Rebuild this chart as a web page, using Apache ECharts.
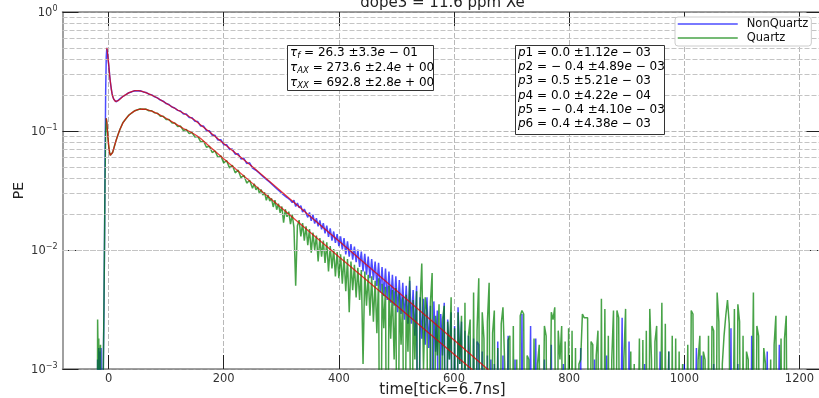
<!DOCTYPE html>
<html>
<head>
<meta charset="utf-8">
<script src="https://cdn.jsdelivr.net/npm/echarts@6/dist/echarts.min.js"></script>
<style>html,body{margin:0;padding:0;background:#fff}#c{width:819px;height:398px}</style>
</head>
<body>
<div id="c"></div>
<script>
// ---------- DATA ----------
const xTickLabels = [0, 200, 400, 600, 800, 1000, 1200];
const yMinorGrid = [0.002,0.003,0.004,0.005,0.006,0.007,0.008,0.009,
                    0.02,0.03,0.04,0.05,0.06,0.07,0.08,0.09,
                    0.2,0.3,0.4,0.5,0.6,0.7,0.8,0.9];
const seriesNames = ['NonQuartz', 'Quartz'];
const xAxisTitle = 'time[tick=6.7ns]';
const yAxisTitle = 'PE';

// sample positions (tick bins): -20..20 step 1, 25..250 step 5, 253..649 step 3, 652..1180 step 3
function seq(a, b, s) { const r = []; for (let v = a; v <= b; v += s) r.push(v); return r; }
const timeTicks = [].concat(seq(-20, 20, 1), seq(25, 250, 5), seq(253, 649, 3), seq(652, 1180, 3));

const nonQuartzA = [0,.0012,0,.0015,.0009,.0014,0,.0015,0,0,
 0,.0012,.003,.012,.06,.22,.42,.50,.46,.41,
 .37,.33,.29,.262,.24,.222,.207,.197,.19,.185,
 .181,.178,.177,.176,.177,.178,.18,.182,.184,.186,
 .188];
const nonQuartzB = [.196,.201,.21,.213,.218,.217,.218,.213,.211,.204,
 .201,.194,.19,.182,.178,.17,.167,.159,.156,.149,
 .147,.139,.139,.13,.129,.121,.12,.11,.11,.101,
 .1005,.092,.092,.084,.0845,.0768,.0768,.070,.0705,.0638,
 .0645,.0582,.059,.0532,.054,.0488];
const nonQuartzC = [
 .0495,.0468,.0466,.0441,.0440,.0415,.0418,.0392,.0395,.0371,
 .0372,.0348,.0352,.0327,.0336,.0309,.0315,.0290,.0298,.0276,
 .0285,.0262,.0250,.0262,.0232,.0248,.0226,.0236,.0208,.0221,
 .0218,.0188,.0207,.0176,.0198,.0167,.0185,.0158,.0177,.0149,
 .0168,.0138,.0160,.0129,.0152,.0120,.0143,.0115,.0136,.0108,
 .0130,.0101,.0126,.0092,.0118,.0088,.0112,.0083,.0107,.0079,
 .0101,.0072,.0097,.0066,.0093,.0062,.0088,.0058,.0084,.0056,
 .0080,.0050,.0078,.0044,.0072,.0041,.0070,.0038,.0066,.0036,
 .0062,.0034,.0060,.0030,.0056,.0029,.0053,.0026,.0050,.0024,
 .0055,.0024,.0046,.0019,.0050,0,.0040,.0018,.0039,.0016,
 .0040,.0015,.0034,0,.0037,.0014,.0031,0,.0029,.0013,
 .0036,0,.0026,.0012,.0030,0,.0023,0,.0033,.0011,
 .0025,0,.0021,0,.0019,.0010,0,.0018,0,.0017,
 .0016,0,.0014];
const nonQuartzD = [
 .0014,0,.0013,0,.0012,0,.0011,0,.0017,0,
 0,.0013,0,0,.0019,0,0,0,.0012,0,
 0,0,.0029,0,0,0,0,.0023,0,0,
 .0018,0,0,0,0,.0012,0,0,0,.0016,
 0,0,0,0,0,0,.0011,0,0,0,
 0,0,0,0,0,0,.0015,0,0,0,
 0,0,0,0,.0012,0,0,0,0,0,
 0,.0013,0,0,0,0,0,0,0,0,
 .0027,0,0,0,.0017,0,0,0,0,0,
 0,0,0,.0011,0,0,0,0,0,0,
 0,0,.0014,0,0,0,0,.0014,0,0,
 0,0,0,0,0,0,.0011,0,0,0,
 0,0,0,.0015,0,0,.0013,0,0,0,
 0,0,0,.0011,0,0,0,0,0,0,
 0,0,0,.0022,0,0,0,.0011,0,0,
 0,0,0,0,0,.0019,0,0,0,0,
 0,0,0,0,.0014,0,0,0,0,0,
 0,.0016,0,0,0,0,0];

const quartzA = [0,.0026,.0012,.0018,0,.0013,.0016,0,0,0,
 0,.0011,.0035,.012,.045,.10,.128,.118,.101,.087,
 .077,.070,.065,.0625,.0617,.0618,.0635,.066,.068,.071,
 .074,.077,.080,.083,.086,.089,.092,.095,.098,.101,
 .104];
const quartzB = [.118,.126,.136,.141,.148,.150,.154,.152,.153,.148,
 .148,.142,.141,.133,.133,.125,.125,.117,.117,.109,
 .11,.101,.103,.095,.097,.089,.09,.081,.082,.073,
 .0745,.066,.068,.060,.0618,.054,.0565,.049,.0515,.0445,
 .047,.0405,.0425,.0365,.0385,.033];
const quartzC = [
 .0360,.0320,.0338,.0300,.0322,.0290,.0305,.0262,.0290,.0258,
 .0272,.0230,.0262,.0218,.0245,.0205,.0232,.0170,.0220,.0190,
 .0210,.0165,.0198,.0155,.0050,.0160,.0178,.0130,.0168,.0120,
 .0158,.0110,.0150,.0095,.0140,.0100,.0132,.0080,.0126,.0088,
 .0120,.0078,.0116,.0066,.0108,.0070,.0102,.0060,.0096,.0058,
 .0092,.0052,.0088,.0045,.0084,.0030,.0080,.0046,.0075,.0040,
 .0071,.0038,.0068,.0011,.0066,.0034,.0062,.0028,.0060,.0025,
 .0055,.0020,.0058,0,.0052,.0022,.0049,0,.0050,.0018,
 .0046,.0012,.0048,0,.0044,.0016,.0040,0,.0042,.0014,
 .0060,0,.0038,.0012,.0045,0,.0035,.0077,.0010,.0040,
 .0030,0,.0036,.0064,0,.0028,.0013,.0035,0,.0026,
 .0034,0,.0025,.0012,.0040,0,.0022,0,.0030,.0011,
 .0028,0,.0036,0,.0019,.0026,0,.0044,0,.0021,
 .0058,0,.0030];
const quartzD = [
 .0018,0,.0025,.0053,0,.0020,.0031,0,.0015,0,
 .0024,.0033,.0011,0,.00175,.0019,0,.0023,0,.0012,
 0,.0028,.0031,.0029,0,.0013,.0012,0,0,.0018,
 0,.0011,.0016,0,0,.0023,.0019,0,0,.0030,
 .0026,.0033,0,.0021,.0012,.0023,0,.0017,0,.0022,
 0,.0021,0,.0015,0,.0011,.0012,.0029,.0027,.0027,
 .0027,0,.0017,.0016,0,.0013,.0021,0,.0039,0,
 .0032,0,.0019,0,.0012,.0031,0,.0031,.0027,0,
 0,.0012,.0032,0,0,.0014,0,.0011,0,0,
 .0018,0,.00175,0,.0021,0,.0032,.0012,0,.0017,
 .0023,0,0,.0036,0,.0024,0,.0014,0,.0019,
 0,.0018,0,.0014,0,.0011,0,0,.0016,0,
 .0031,.0029,0,0,.0012,.0019,0,.0014,.0012,0,
 .0019,0,.0023,.0021,0,.0044,.0025,0,.0011,.0019,
 .0028,.0038,.0024,0,0,.0032,0,.0035,.0025,0,
 .0019,0,.0014,.0012,0,0,.0044,0,.0023,.0019,
 0,0,.0015,.0011,0,0,.0012,0,.0016,.0028,
 0,0,.0018,0,.0018,.0028,0];

const nonQuartz = [].concat(nonQuartzA, nonQuartzB, nonQuartzC, nonQuartzD);
const quartz = [].concat(quartzA, quartzB, quartzC, quartzD);

// fitted curves
const fitNonQuartzT = [-3,-2,-1,0,1,2,3,4,5,6,7,8,9,10,12,14,17,20,25,30,35,40,46,52,60,70,80,90,100,110,120,135,150,160,175,200,250,300,350,400,450,500,550,600,650,700];
const fitNonQuartzV = [.50,.46,.41,.37,.33,.29,.262,.24,.222,.207,.197,.19,.185,.181,.177,.176,.18,.186,.195,.202,.209,.214,.218,.218,.214,.205,.195,.183,.171,.16,.15,.137,.123,.1125,.0985,.0785,.0501,.0310,.0192,.0119,.00737,.00457,.00283,.00175,.00108,.00067];
const fitQuartzT = [-4,-3,-2,-1,0,1,2,3,4,5,6,7,8,10,12,15,20,25,30,35,40,45,50,58,65,75,85,100,115,130,140,150,160,175,200,250,300,350,400,450,500,550,600,650,700];
const fitQuartzV = [.128,.118,.101,.087,.077,.070,.065,.0625,.0617,.0618,.0635,.066,.068,.074,.080,.089,.104,.117,.127,.135,.142,.147,.151,.153,.152,.147,.140,.128,.116,.105,.0995,.0935,.0865,.0745,.0585,.0363,.0226,.0141,.00879,.00548,.00342,.00213,.00133,.00083,.00052];

const titleText = 'dope3 = 11.6 ppm Xe';
const tauLines = [
  '{i|τ}{sub|f}{n| = 26.3 ±3.3}{i|e}{n| − 01}',
  '{i|τ}{sub|AX}{n| = 273.6 ±2.4}{i|e}{n| + 00}',
  '{i|τ}{sub|XX}{n| = 692.8 ±2.8}{i|e}{n| + 00}'
];
const pLines = [
  '{i|p}{n|1 = 0.0 ±1.12}{i|e}{n| − 03}',
  '{i|p}{n|2 = − 0.4 ±4.89}{i|e}{n| − 03}',
  '{i|p}{n|3 = 0.5 ±5.21}{i|e}{n| − 03}',
  '{i|p}{n|4 = 0.0 ±4.22}{i|e}{n| − 04}',
  '{i|p}{n|5 = − 0.4 ±4.10}{i|e}{n| − 03}',
  '{i|p}{n|6 = 0.4 ±4.38}{i|e}{n| − 03}'
];

// ---------- CHART ----------
const FONT = 'DejaVu Sans';
const FLOOR = 1e-5; // zero counts drop below the log axis (clipped)
const pts = (ts, vs) => ts.map((t, i) => [t, vs[i] > 0 ? vs[i] : FLOOR]);

const richText = {
  n: { fontSize: 12, fontFamily: FONT, color: '#111', lineHeight: 15 },
  i: { fontSize: 12, fontFamily: FONT, fontStyle: 'italic', color: '#111', lineHeight: 15 },
  sub: { fontSize: 8.5, fontFamily: FONT, fontStyle: 'italic', color: '#111', lineHeight: 9, verticalAlign: 'bottom' }
};
const graphics = [];
graphics.push({ type: 'text', x: 442.5, y: 3, z: 100,
  style: { text: titleText, fontSize: 15, fontFamily: FONT, fill: '#222', align: 'center', verticalAlign: 'middle' } });
graphics.push({ type: 'text', x: 442.5, y: 390.5, z: 100,
  style: { text: xAxisTitle, fontSize: 15, fontFamily: FONT, fill: '#222', align: 'center', verticalAlign: 'middle' } });
graphics.push({ type: 'text', x: 19, y: 190.5, z: 100, rotation: Math.PI / 2,
  style: { text: yAxisTitle, fontSize: 14, fontFamily: FONT, fill: '#222', align: 'center', verticalAlign: 'middle' } });
graphics.push({ type: 'rect', z: 100, shape: { x: 287.5, y: 45.5, width: 146, height: 45 },
  style: { fill: '#fff', stroke: '#333', lineWidth: 1 } });
tauLines.forEach((s, k) => graphics.push({ type: 'text', z: 101, x: 290, y: 52.5 + k * 15,
  style: { text: s, rich: richText, verticalAlign: 'middle', align: 'left' } }));
graphics.push({ type: 'rect', z: 100, shape: { x: 515.5, y: 45.5, width: 149, height: 89 },
  style: { fill: '#fff', stroke: '#333', lineWidth: 1 } });
pLines.forEach((s, k) => graphics.push({ type: 'text', z: 101, x: 518, y: 52.7 + k * 14.3,
  style: { text: s, rich: richText, verticalAlign: 'middle', align: 'left' } }));

const supMap = v => { const e = Math.round(Math.log10(v)); return '{b|10}{s|' + (e < 0 ? '−' + (-e) : e) + '}'; };

const chart = echarts.init(document.getElementById('c'), null, { renderer: 'canvas' });
chart.setOption({
  animation: false,
  backgroundColor: '#fff',
  textStyle: { fontFamily: FONT },
  grid: { left: 62.5, top: 12, width: 760, height: 357, outerBoundsMode: 'none', containLabel: false },
  legend: {
    data: seriesNames, orient: 'vertical', left: 675, top: 17,
    itemWidth: 60, itemHeight: 14, itemGap: 2, padding: [1, 3, 2, 2],
    backgroundColor: '#fff', borderColor: '#cccccc', borderWidth: 1, borderRadius: 3,
    selectedMode: false, z: 50,
    itemStyle: { opacity: 0 },
    lineStyle: { width: 1.5 },
    textStyle: { fontSize: 11.5, color: '#111', fontFamily: FONT, padding: [0, 0, 0, 4] }
  },
  xAxis: [{
    type: 'value', min: -80, max: 1240, position: 'bottom',
    axisLine: { show: true, onZero: false, lineStyle: { color: '#808080', width: 1.5 } },
    axisTick: { show: true, inside: true, length: 14, customValues: xTickLabels, lineStyle: { color: '#222', width: 1 } },
    axisLabel: { customValues: xTickLabels, margin: 4, fontSize: 11.5, color: '#333', fontFamily: FONT,
      formatter: v => String(v) },
    splitLine: { show: true, lineStyle: { color: '#b8b8b8', type: [5, 2], width: 1 } }
  }, {
    type: 'value', min: -80, max: 1240, position: 'top',
    axisLine: { show: true, onZero: false, lineStyle: { color: '#808080', width: 1.5 } },
    axisTick: { show: true, inside: true, length: 14, customValues: xTickLabels, lineStyle: { color: '#222', width: 1 } },
    axisLabel: { show: false }, splitLine: { show: false }
  }],
  yAxis: [{
    type: 'log', logBase: 10, min: 0.001, max: 1, position: 'left',
    axisLine: { show: true, onZero: false, lineStyle: { color: '#808080', width: 1.5 } },
    axisTick: { show: true, inside: true, length: 16, lineStyle: { color: '#222', width: 1 } },
    minorTick: { show: false },
    axisLabel: { margin: 5, formatter: supMap,
      rich: { b: { fontSize: 11.5, color: '#333', fontFamily: FONT, lineHeight: 14, verticalAlign: 'bottom' },
              s: { fontSize: 8, color: '#333', fontFamily: FONT, lineHeight: 8, verticalAlign: 'top' } } },
    splitLine: { show: true, lineStyle: { color: '#b8b8b8', type: [5, 2], width: 1 } }
  }, {
    type: 'log', logBase: 10, min: 0.001, max: 1, position: 'right',
    axisLine: { show: true, onZero: false, lineStyle: { color: '#808080', width: 1.5 } },
    axisTick: { show: true, inside: true, length: 16, lineStyle: { color: '#222', width: 1 } },
    axisLabel: { show: false }, splitLine: { show: false }, minorTick: { show: false }
  }],
  series: [{
    name: 'grid', type: 'line', data: [], z: 1, silent: true,
    markLine: { silent: true, symbol: ['none', 'none'], label: { show: false }, animation: false,
      lineStyle: { color: '#c4c4c4', type: [5, 2], width: 1 },
      data: yMinorGrid.map(v => ({ yAxis: v })) }
  }, {
    name: seriesNames[0], type: 'line', data: pts(timeTicks, nonQuartz), z: 3,
    showSymbol: false, symbol: 'none', clip: true, silent: true,
    color: 'rgba(0,0,255,0.7)', lineStyle: { color: 'rgba(0,0,255,0.7)', width: 1.5 }
  }, {
    name: seriesNames[1], type: 'line', data: pts(timeTicks, quartz), z: 4,
    showSymbol: false, symbol: 'none', clip: true, silent: true,
    color: 'rgba(0,128,0,0.72)', lineStyle: { color: 'rgba(0,128,0,0.72)', width: 1.5 }
  }, {
    name: 'fitNonQuartz', type: 'line', data: pts(fitNonQuartzT, fitNonQuartzV), z: 5,
    showSymbol: false, symbol: 'none', clip: true, silent: true, smooth: false,
    lineStyle: { color: 'rgba(225,0,0,0.75)', width: 1.3 }
  }, {
    name: 'fitQuartz', type: 'line', data: pts(fitQuartzT, fitQuartzV), z: 5,
    showSymbol: false, symbol: 'none', clip: true, silent: true, smooth: false,
    lineStyle: { color: 'rgba(225,0,0,0.75)', width: 1.3 }
  }],
  graphic: graphics
});
</script>
</body>
</html>
